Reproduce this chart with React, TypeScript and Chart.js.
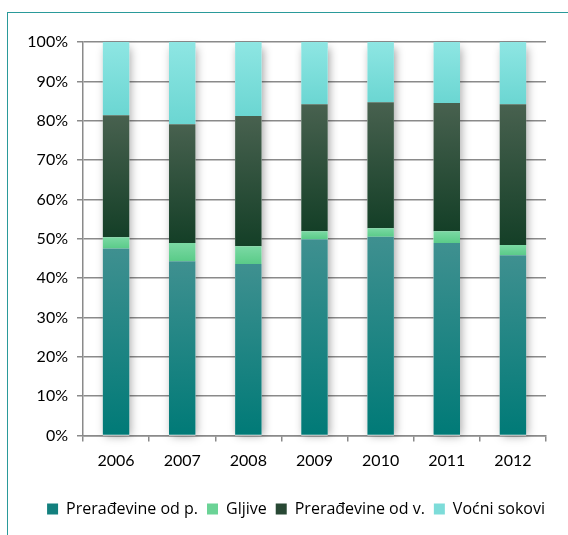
import React, { useEffect, useRef } from 'react';
import { Chart, registerables } from 'chart.js';

Chart.register(...registerables);

const years = ['2006', '2007', '2008', '2009', '2010', '2011', '2012'];
const preradjevineP = [47.5, 44.3, 43.6, 49.9, 50.5, 48.9, 45.8];
const gljive = [2.9, 4.6, 4.5, 2.0, 2.2, 3.0, 2.6];
const preradjevineV = [31.0, 30.2, 33.1, 32.3, 32.0, 32.6, 35.8];
const vocniSokovi = [18.6, 20.9, 18.8, 15.8, 15.3, 15.5, 15.8];
const seriesNames = ['Prerađevine od p.', 'Gljive', 'Prerađevine od v.', 'Voćni sokovi'];
const yTicks = [0, 10, 20, 30, 40, 50, 60, 70, 80, 90, 100];

const seriesData = [preradjevineP, gljive, preradjevineV, vocniSokovi];
const gradTop = ['#3f9090', '#7bd9a4', '#48614f', '#8ee6e3'];
const gradBottom = ['#007a77', '#5acb88', '#143f27', '#6bd6d2'];
const legendColors = ['#13807e', '#6bd396', '#284834', '#7ddcd9'];

function segBounds(ds: number, i: number): [number, number] {
  let start = 0;
  for (let k = 0; k < ds; k++) start += seriesData[k][i];
  return [start, start + seriesData[ds][i]];
}

const shadowPlugin = {
  id: 'barShadow',
  afterLayout(chart: any) {
    if (chart.legend) {
      chart.legend.left += 8;
      chart.legend.right += 8;
    }
  },
  beforeDatasetsDraw(chart: any) {
    const meta = chart.getDatasetMeta(0);
    const y = chart.scales.y;
    const ctx = chart.ctx;
    ctx.save();
    meta.data.forEach((bar: any) => {
      const w = bar.width;
      ctx.shadowColor = 'rgba(0,0,0,0.35)';
      ctx.shadowBlur = 9;
      ctx.shadowOffsetX = 2;
      ctx.shadowOffsetY = 0;
      ctx.fillStyle = '#ffffff';
      const top = y.getPixelForValue(100);
      const bottom = y.getPixelForValue(0);
      ctx.fillRect(bar.x - w / 2, top + 6, w, bottom - top - 6);
    });
    ctx.restore();
  },
};

export default function App() {
  const ref = useRef<HTMLCanvasElement | null>(null);

  useEffect(() => {
    if (!ref.current) return;
    const datasets = seriesData.map((data, ds) => ({
      label: seriesNames[ds],
      data,
      borderWidth: 0,
      barPercentage: 0.4,
      categoryPercentage: 1,
      backgroundColor: (c: any) => {
        const chart = c.chart;
        const y = chart.scales?.y;
        if (!y || c.dataIndex === undefined || !chart.chartArea) return legendColors[ds];
        const [s, e] = segBounds(ds, c.dataIndex);
        const y0 = y.getPixelForValue(s);
        const y1 = y.getPixelForValue(e);
        if (!isFinite(y0) || !isFinite(y1) || y0 === y1) return legendColors[ds];
        const g = chart.ctx.createLinearGradient(0, y1, 0, y0);
        g.addColorStop(0, gradTop[ds]);
        g.addColorStop(1, gradBottom[ds]);
        return g;
      },
    }));

    const chart = new Chart(ref.current, {
      type: 'bar',
      data: { labels: years, datasets },
      plugins: [shadowPlugin],
      options: {
        animation: false,
        responsive: false,
        maintainAspectRatio: false,
        layout: { padding: { left: 0, top: 42, right: 22, bottom: 8 } },
        plugins: {
          tooltip: { enabled: false },
          legend: {
            position: 'bottom',
            align: 'end',
            labels: {
              boxWidth: 11,
              boxHeight: 11,
              padding: 9,
              color: '#000',
              font: { family: 'Open Sans', size: 16 },
              generateLabels: () =>
                seriesNames.map((n, i) => ({
                  text: n,
                  fillStyle: legendColors[i],
                  strokeStyle: legendColors[i],
                  lineWidth: 0,
                  hidden: false,
                  datasetIndex: i,
                })),
            },
          },
        },
        scales: {
          x: {
            stacked: true,
            offset: true,
            grid: {
              offset: true,
              drawOnChartArea: false,
              drawTicks: true,
              tickLength: 6,
              color: '#8a8a8a',
              lineWidth: 1.5,
            },
            border: { color: '#8a8a8a', width: 1.5 },
            ticks: { color: '#000', padding: 10, font: { family: 'Lato', size: 16 } },
            afterFit: (s: any) => {
              s.height = 56.5;
            },
          },
          y: {
            stacked: true,
            min: 0,
            max: 100,
            afterBuildTicks: (s: any) => {
              s.ticks = yTicks.map((v) => ({ value: v }));
            },
            grid: { color: '#8a8a8a', lineWidth: 1.5, tickLength: 6 },
            border: { color: '#8a8a8a', width: 1.5 },
            ticks: {
              color: '#000',
              padding: 9,
              font: { family: 'Lato', size: 16 },
              callback: (v: any) => v + '%',
            },
            afterFit: (s: any) => {
              s.width = 83;
            },
          },
        },
      },
    });
    return () => chart.destroy();
  }, []);

  return (
    <div style={{ position: 'fixed', left: 0, top: 0, width: 568, height: 535, background: '#fff' }}>
      <div
        style={{
          position: 'absolute',
          left: 7,
          top: 12,
          width: 570,
          height: 530,
          borderTop: '1.5px solid #2a9a9a',
          borderLeft: '1.5px solid #2a9a9a',
        }}
      />
      <canvas ref={ref} width={568} height={535} style={{ position: 'absolute', left: 0, top: 0 }} />
    </div>
  );
}
